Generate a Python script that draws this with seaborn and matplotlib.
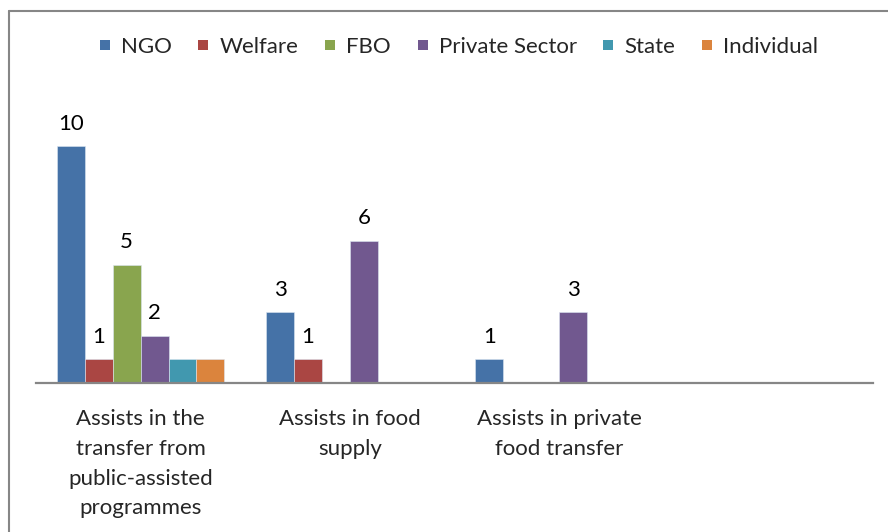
import pandas as pd
import numpy as np
import seaborn as sns
import matplotlib.pyplot as plt
from matplotlib.lines import Line2D

# categories (4th slot is empty in the original chart)
categories = ["Assists in the\ntransfer from\npublic-assisted\nprogrammes",
              "Assists in food\nsupply",
              "Assists in private\nfood transfer",
              ""]
series = ["NGO", "Welfare", "FBO", "Private Sector", "State", "Individual"]

ngo = [10, 3, 1, 0]
welfare = [1, 1, 0, 0]
fbo = [5, 0, 0, 0]
private_sector = [2, 6, 3, 0]
state = [1, 0, 0, 0]
individual = [1, 0, 0, 0]

colors = ["#4572A7", "#AA4643", "#89A54E", "#71588F", "#4198AF", "#DB843D"]
labelled = ["NGO", "Welfare", "FBO", "Private Sector"]  # only these have data labels

vals = [ngo, welfare, fbo, private_sector, state, individual]
rows = []
for s, v in zip(series, vals):
    for c, n in zip(categories, v):
        rows.append({"cat": c, "series": s, "value": n})
df = pd.DataFrame(rows)

sns.set_style("white")
plt.rcParams['font.family'] = ['Lato', 'DejaVu Sans']

fig = plt.figure(figsize=(8.88, 5.32), dpi=100)
ax = fig.add_axes([36/888, (532-383)/532, (873-36)/888, 284/532])

sns.barplot(data=df, x="cat", y="value", hue="series", order=categories,
            hue_order=series, palette=colors, saturation=1, width=0.8,
            edgecolor="#dce6f2", linewidth=0.4, legend=False, ax=ax)

for cont, s in zip(ax.containers, series):
    if s in labelled:
        labs = [str(int(b.get_height())) if b.get_height() > 0 else "" for b in cont]
        ax.bar_label(cont, labels=labs, padding=9, fontsize=16, color="black")

ax.set_ylim(0, 12)
ax.set_xlim(-0.5, 3.5)
ax.set_xlabel("")
ax.set_ylabel("")
ax.set_yticks([])
for side in ["top", "right", "left"]:
    ax.spines[side].set_visible(False)
ax.spines["bottom"].set_color("#868686")
ax.spines["bottom"].set_linewidth(1.6)
ax.tick_params(axis="x", length=0, pad=19, labelsize=16)
for t in ax.get_xticklabels():
    t.set_linespacing(1.6)
    t.set_verticalalignment("top")

# square legend keys
handles = [Line2D([], [], marker="s", ls="", markersize=6.8, color=c,
                  markeredgewidth=0) for c in colors]
fig.legend(handles, series, loc="center", bbox_to_anchor=(459/888, 1 - 47/532),
           ncol=6, frameon=False, fontsize=16, handlelength=0.45,
           handletextpad=0.5, columnspacing=1.2)

# chart area border (left and top edges are visible)
bc = "#868686"
fig.add_artist(Line2D([9/888, 9/888], [0, 1 - 11/532], color=bc, lw=1.5))
fig.add_artist(Line2D([9/888, 1], [1 - 11/532, 1 - 11/532], color=bc, lw=1.5))

fig.savefig("out.png", dpi=100)
